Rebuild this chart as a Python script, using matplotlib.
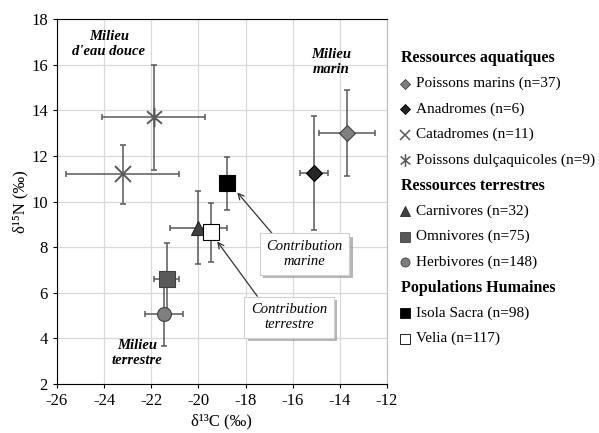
import matplotlib.pyplot as plt
import matplotlib.patheffects as pe
from matplotlib.path import Path
import numpy as np

plt.rcParams['font.family'] = ['Liberation Serif', 'DejaVu Serif']
plt.rcParams['axes.unicode_minus'] = False

# data: (delta13C, delta15N) means with standard deviations
labels = ['Poissons marins (n=37)', 'Anadromes (n=6)', 'Catadromes (n=11)',
          'Poissons dulçaquicoles (n=9)', 'Carnivores (n=32)', 'Omnivores (n=75)',
          'Herbivores (n=148)', 'Isola Sacra (n=98)', 'Velia (n=117)']
c13 = [-13.7, -15.1, -23.2, -21.9, -20.0, -21.35, -21.45, -18.8, -19.45]
n15 = [13.0, 11.25, 11.2, 13.7, 8.85, 6.6, 5.05, 10.8, 8.65]
c13_sd = [1.2, 0.6, 2.4, 2.2, 1.2, 0.55, 0.8, 0.0, 0.0]
n15_sd = [1.9, 2.5, 1.3, 2.3, 1.6, 1.6, 1.4, 1.15, 1.3]
groups = ['Ressources aquatiques', 'Ressources terrestres', 'Populations Humaines']
group_members = [[0, 1, 2, 3], [4, 5, 6], [7, 8]]

# asterisk: an X with a vertical stroke
a = np.deg2rad(40)
star = Path([(-np.cos(a), -np.sin(a)), (np.cos(a), np.sin(a)),
             (-np.cos(a), np.sin(a)), (np.cos(a), -np.sin(a)),
             (0, -1), (0, 1)],
            [Path.MOVETO, Path.LINETO, Path.MOVETO, Path.LINETO,
             Path.MOVETO, Path.LINETO])

markers = ['D', 'D', 'x', star, '^', 's', 'o', 's', 's']
sizes = [8.5, 8.5, 12, 14, 10, 11, 10, 11, 11]
faces = ['#7f7f7f', '#262626', '#595959', '#595959', '#404040', '#595959',
         '#7f7f7f', 'black', 'white']
edges = ['#404040', '#000000', '#595959', '#595959', '#262626', '#404040',
         '#404040', 'black', 'black']
thin_line = [False, False, True, True, False, False, False, False, False]

fig = plt.figure(figsize=(5.99, 4.33), dpi=100)
ax = fig.add_axes([0.095, 0.113, 0.551, 0.843])

for i in range(len(labels)):
    ax.errorbar(c13[i], n15[i], xerr=c13_sd[i] or None, yerr=n15_sd[i],
                fmt='none', ecolor='#595959', elinewidth=1.1, capsize=2.5,
                capthick=1.1, zorder=2)
for i in range(len(labels)):
    ax.plot(c13[i], n15[i], marker=markers[i], ms=sizes[i], mfc=faces[i],
            mec=edges[i], mew=1.4 if thin_line[i] else 0.8, ls='none', zorder=3)

ax.set_xlim(-26, -12)
ax.set_ylim(2, 18)
ax.set_xticks(range(-26, -11, 2))
ax.set_yticks(range(2, 19, 2))
ax.grid(color='#d9d9d9', lw=0.9)
ax.set_axisbelow(True)
ax.tick_params(labelsize=12, length=3, direction='out')
ax.spines['right'].set_color('#bfbfbf')
ax.set_xlabel('δ¹³C (‰)', fontsize=12, labelpad=3)
ax.set_ylabel('δ¹⁵N (‰)', fontsize=12, labelpad=2)

bold = dict(fontsize=10.5, fontweight='bold', fontstyle='italic', ha='center',
            va='center', linespacing=1.2)
ax.text(-23.8, 16.9, "Milieu\nd'eau douce", **bold)
ax.text(-14.35, 16.1, "Milieu\nmarin", **bold)
ax.text(-22.6, 3.35, "Milieu\nterrestre", **bold)

box = dict(boxstyle='square,pad=0.45', fc='white', ec='#d0d0d0', lw=0.8)
for txt, xy, xytext in [('Contribution\nmarine', (-18.35, 10.4), (-15.5, 7.7)),
                        ('Contribution\nterrestre', (-19.2, 8.25), (-16.15, 4.93))]:
    t = ax.annotate(txt, xy=xy, xytext=xytext, fontsize=10.5, fontstyle='italic',
                    ha='center', va='center', bbox=box, linespacing=1.2,
                    arrowprops=dict(arrowstyle='->', color='#333333', lw=0.9,
                                    shrinkA=0, shrinkB=0, relpos=(0.15, 1.0)),
                    zorder=5)
    t.get_bbox_patch().set_path_effects(
        [pe.withSimplePatchShadow(offset=(2.5, -2.5), shadow_rgbFace='#888888', alpha=0.6)])

# legend drawn in its own axes, coordinates in pixels
lax = fig.add_axes([0.0, 0.0, 1.0, 1.0], zorder=-1)
lax.set_xlim(0, 599)
lax.set_ylim(433, 0)
lax.axis('off')
y = 58
for g, members in zip(groups, group_members):
    lax.text(401, y, g, fontsize=11.5, fontweight='bold', va='center', ha='left')
    y += 25.5
    for i in members:
        lax.plot(405, y, marker=markers[i], ms=sizes[i] * 0.65, mfc=faces[i],
                 mec=edges[i], mew=1.1 if thin_line[i] else 0.6,
                 ls='none', clip_on=False)
        lax.text(416, y, labels[i], fontsize=11, va='center', ha='left')
        y += 25.5

fig.savefig('out.png', dpi=100)
